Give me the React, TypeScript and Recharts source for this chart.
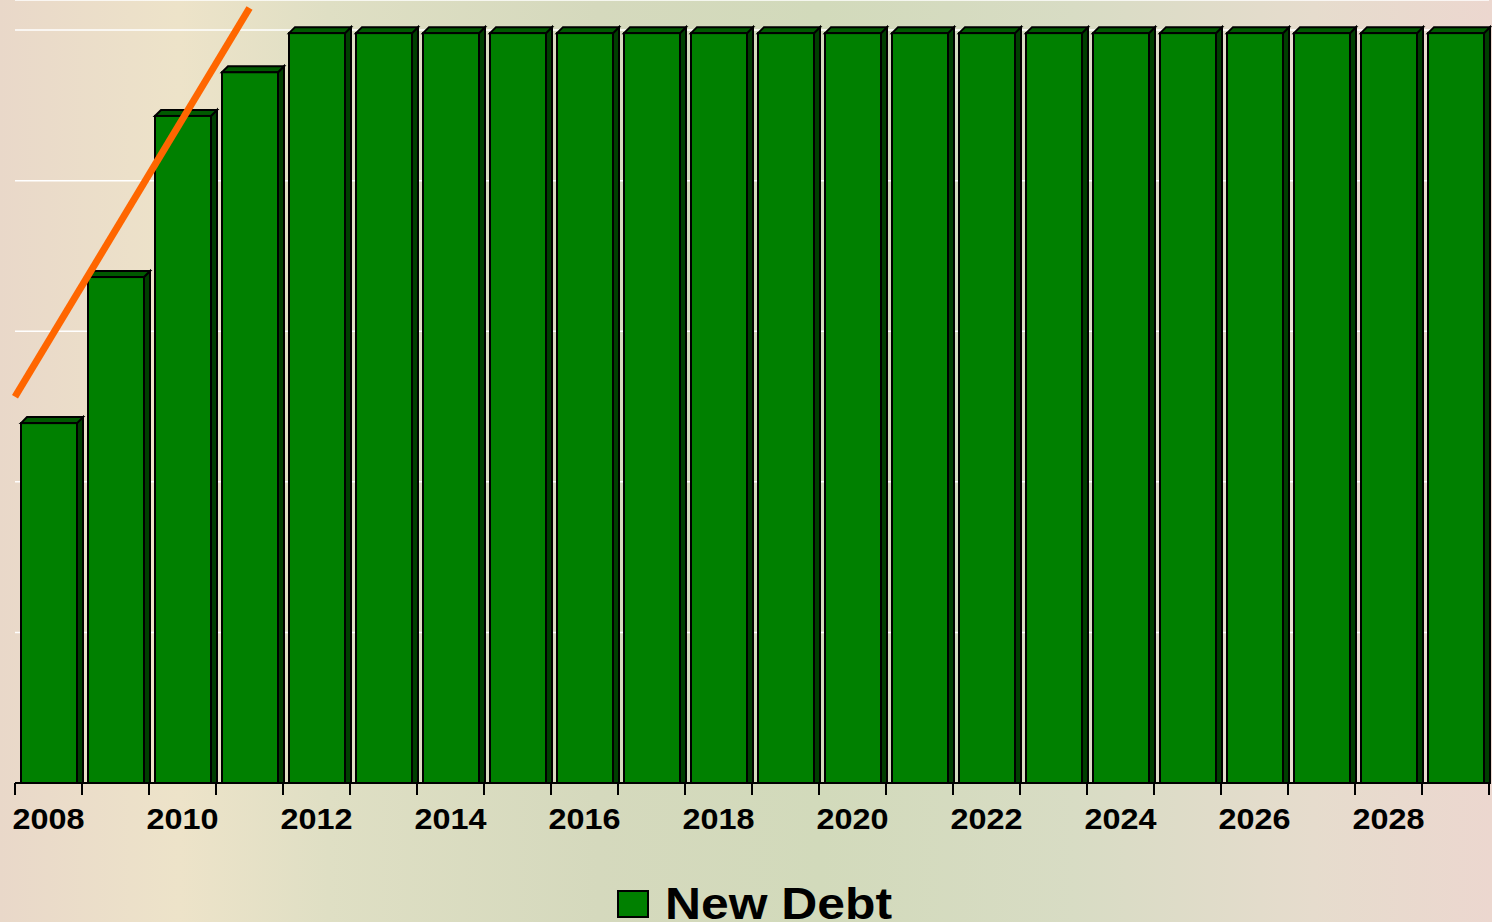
import {
  ComposedChart,
  Bar,
  Line,
  XAxis,
  YAxis,
  CartesianGrid,
  Legend,
} from "recharts";

const years = [
  "2008", "2009", "2010", "2011", "2012", "2013", "2014", "2015", "2016", "2017", "2018",
  "2019", "2020", "2021", "2022", "2023", "2024", "2025", "2026", "2027", "2028", "2029",
];
const newDebt = [
  2.39, 3.36, 4.43, 4.72, 4.98, 4.98, 4.98, 4.98, 4.98, 4.98, 4.98,
  4.98, 4.98, 4.98, 4.98, 4.98, 4.98, 4.98, 4.98, 4.98, 4.98, 4.98,
];
const gridTicks = [0, 1, 2, 3, 4, 5];
// trend arrow, in band units along x
const trendPos = [0, 3.5];
const trendVal = [2.565, 5.147];

const data = years.map((year, i) => ({ year, debt: newDebt[i] }));
const trend = trendPos.map((t, i) => ({ t, v: trendVal[i] }));

const FONT = '"Liberation Sans", Arial, sans-serif';
const DX = 6;
const DY = 6;

function Bar3D(props: any) {
  const { x, y, width, height } = props;
  if (!height || height <= 0) return null;
  const r = x + width;
  const b = y + height;
  return (
    <g stroke="#000" strokeWidth={2} strokeLinejoin="miter">
      <polygon
        points={`${r},${y} ${r + DX},${y - DY} ${r + DX},${b} ${r},${b}`}
        fill="#003f00"
      />
      <polygon
        points={`${x},${y} ${x + DX},${y - DY} ${r + DX},${y - DY} ${r},${y}`}
        fill="#005a00"
      />
      <rect x={x} y={y} width={width} height={height} fill="#008000" />
    </g>
  );
}

function YearTick(props: any) {
  const { x, y, payload, index } = props;
  const half = 67 / 2;
  const yr = Number(payload.value);
  return (
    <g>
      <line x1={x - half} x2={x - half} y1={y - 8} y2={y + 4} stroke="#000" strokeWidth={2} />
      {index === years.length - 1 && (
        <line x1={x + half} x2={x + half} y1={y - 8} y2={y + 4} stroke="#000" strokeWidth={2} />
      )}
      {yr % 2 === 0 && (
        <text
          x={x}
          y={y + 38}
          textAnchor="middle"
          fontFamily={FONT}
          fontWeight="bold"
          fontSize={29}
          textLength={72}
          lengthAdjust="spacingAndGlyphs"
          fill="#000"
        >
          {payload.value}
        </text>
      )}
    </g>
  );
}

function LegendBox() {
  return (
    <svg width={1492} height={44} style={{ display: "block", overflow: "visible" }}>
      <rect x={618} y={13} width={30} height={26} fill="#008000" stroke="#000" strokeWidth={2} />
      <text
        x={665}
        y={41}
        fontFamily={FONT}
        fontWeight="bold"
        fontSize={45}
        textLength={227}
        lengthAdjust="spacingAndGlyphs"
        fill="#000"
      >
        New Debt
      </text>
    </svg>
  );
}

export default function App() {
  return (
    <div
      style={{
        width: 1492,
        height: 922,
        overflow: "hidden",
        background:
          "linear-gradient(to right, #e9d8c9 0%, #ede3c9 12%, #dfdfc4 22%, #d5d9bd 40%, #d2dabb 55%, #d8dcc4 72%, #e6dccd 88%, #ecd7cf 100%)",
      }}
    >
      <style>{"body{margin:0}"}</style>
      <ComposedChart
        width={1492}
        height={922}
        data={data}
        margin={{ top: 0, right: 3, left: 15, bottom: 79 }}
        barSize={56}
      >
        <CartesianGrid vertical={false} stroke="#ffffff" strokeWidth={1.5} />
        <XAxis
          dataKey="year"
          interval={0}
          height={60}
          tickLine={false}
          axisLine={{ stroke: "#000", strokeWidth: 2 }}
          tick={<YearTick />}
        />
        <XAxis xAxisId="trend" type="number" dataKey="t" domain={[0, 22]} hide />
        <YAxis hide domain={[0, 5.2]} ticks={gridTicks} />
        <Bar dataKey="debt" name="New Debt" shape={<Bar3D />} isAnimationActive={false} />
        <Line
          data={trend}
          xAxisId="trend"
          dataKey="v"
          stroke="#ff6600"
          strokeWidth={7}
          dot={false}
          activeDot={false}
          isAnimationActive={false}
        />
        <Legend
          layout="horizontal"
          verticalAlign="middle"
          align="center"
          content={() => <LegendBox />}
          wrapperStyle={{ top: 878, left: 0, width: 1492 }}
        />
      </ComposedChart>
    </div>
  );
}
